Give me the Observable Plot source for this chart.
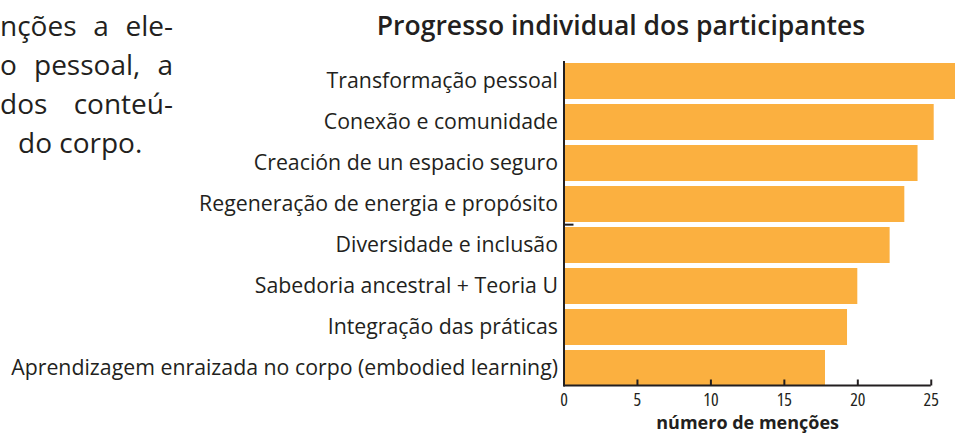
<!DOCTYPE html>
<html>
<head>
<meta charset="utf-8">
<script src="https://cdn.jsdelivr.net/npm/d3@7"></script>
<script src="https://cdn.jsdelivr.net/npm/@observablehq/plot@0.6"></script>
<style>
  html, body { margin: 0; padding: 0; background: #ffffff; overflow: hidden; }
  #wrap { position: relative; width: 955px; height: 434px; font-family: "Open Sans", sans-serif; color: #231f20; }
  #chart { position: absolute; left: 0; top: 0; }
  #title { position: absolute; left: 271px; width: 700px; top: 11.5px; text-align: center; font-size: 26.5px; font-weight: 600; line-height: 1; white-space: nowrap; }
  .para { position: absolute; font-size: 28px; line-height: 1; white-space: nowrap; }
  .just { text-align: justify; text-align-last: justify; }
  .tick-cond text { font-stretch: 85%; }
</style>
</head>
<body>
<div id="wrap">
  <div id="chart"></div>
  <div id="title"></div>
  <div class="para just" style="left:0px; width:173px; top:10.5px;">nções a ele-</div>
  <div class="para just" style="left:0px; width:173px; top:49.5px;">o pessoal, a</div>
  <div class="para just" style="left:0px; width:173px; top:88.5px;">dos conteú-</div>
  <div class="para" style="left:18px; top:127.5px;">do corpo.</div>
</div>
<script>
// ---- data ----
const categories = [
  "Transformação pessoal",
  "Conexão e comunidade",
  "Creación de un espacio seguro",
  "Regeneração de energia e propósito",
  "Diversidade e inclusão",
  "Sabedoria ancestral + Teoria U",
  "Integração das práticas",
  "Aprendizagem enraizada no corpo (embodied learning)"
];
const values = [27, 25.2, 24.1, 23.2, 22.2, 20.0, 19.3, 17.8];
const xTicks = [0, 5, 10, 15, 20, 25];
const xLabel = "número de menções";
const titleText = "Progresso individual dos participantes";

// ---- chart ----
document.getElementById("title").textContent = titleText;

const data = categories.map((c, i) => ({category: c, value: values[i]}));
const ink = "#231f20";
const barColor = "#fbb040";

const W = 955, H = 434;
const ML = 563.5, MR = 0, MT = 57.5, MB = 48.5;
const frameH = H - MT - MB;

const chart = Plot.plot({
  width: W,
  height: H,
  marginLeft: ML,
  marginRight: MR,
  marginTop: MT,
  marginBottom: MB,
  style: {fontFamily: '"Open Sans", sans-serif', color: ink, background: "#ffffff"},
  x: {domain: [0, 26.65]},
  y: {domain: categories, range: [57.5, 391.1], paddingInner: 0.12, paddingOuter: 0.06},
  marks: [
    Plot.barX(data, {x: "value", y: "category", fill: barColor, clip: true}),
    Plot.axisY({tickSize: 0, tickPadding: 6, fontSize: 21.3, label: null}),
    Plot.axisX({ticks: xTicks, tickSize: 0, tickPadding: 7, fontSize: 18, label: null, className: "tick-cond"}),
    Plot.ruleX(xTicks.slice(1), {stroke: ink, strokeWidth: 2, insetTop: frameH - 6}),
    Plot.rect([{x1: xTicks[0], x2: xTicks[xTicks.length - 1]}], {x1: "x1", x2: "x2", fill: ink, insetTop: frameH - 1, insetBottom: -1}),
    Plot.ruleX([0], {stroke: ink, strokeWidth: 2, insetTop: 3.5, insetBottom: -1}),
    Plot.ruleY([categories[4]], {x1: 0, x2: 0.68, stroke: ink, strokeWidth: 2, dy: -20.85}),
    Plot.text([xLabel], {x: (xTicks[0] + xTicks[xTicks.length - 1]) / 2, frameAnchor: "bottom", dy: 43, text: d => d, fontSize: 18, fontWeight: 700, fill: ink})
  ]
});
document.getElementById("chart").appendChild(chart);
</script>
</body>
</html>
